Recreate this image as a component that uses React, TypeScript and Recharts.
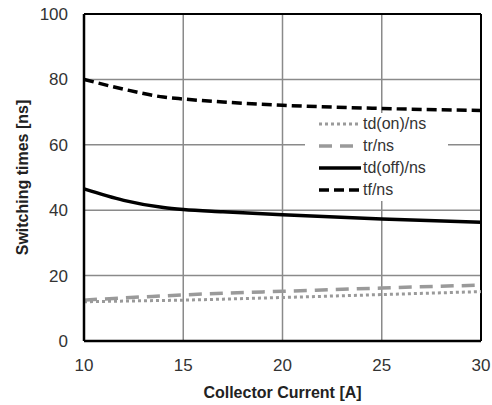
import { LineChart, Line, XAxis, YAxis, CartesianGrid, ReferenceLine } from "recharts";

const current = [10, 12, 14, 15, 17, 20, 25, 30];
const tdOn = [12, 12.2, 12.4, 12.5, 12.8, 13.3, 14.2, 15.1];
const tr = [12.5, 13.2, 13.8, 14.1, 14.6, 15.2, 16.2, 17.1];
const tdOff = [46.5, 43, 40.8, 40.2, 39.5, 38.6, 37.3, 36.3];
const tf = [80, 77, 74.6, 74, 73.1, 72.1, 71.1, 70.5];

const xTicks = [10, 15, 20, 25, 30];
const yTicks = [0, 20, 40, 60, 80, 100];

const FONT = "'Liberation Sans', Arial, sans-serif";

const series = [
  { key: "tdOn", name: "td(on)/ns", color: "#9a9a9a", dash: "3 3", width: 3 },
  { key: "tr", name: "tr/ns", color: "#9a9a9a", dash: "13 8", width: 3.5 },
  { key: "tdOff", name: "td(off)/ns", color: "#000000", dash: undefined, width: 3.5 },
  { key: "tf", name: "tf/ns", color: "#000000", dash: "10 5", width: 3.5 },
];

const data = current.map((c, i) => ({
  current: c,
  tdOn: tdOn[i],
  tr: tr[i],
  tdOff: tdOff[i],
  tf: tf[i],
}));

export default function App() {
  return (
    <div style={{ position: "absolute", left: 0, top: 0, width: 492, height: 405, background: "#fff", fontFamily: FONT }}>
      <LineChart width={492} height={405} data={data} margin={{ top: 14, right: 11, bottom: 0, left: 0 }}>
        <CartesianGrid stroke="#8a8a8a" strokeWidth={1.5} />
        <XAxis
          dataKey="current"
          type="number"
          domain={[10, 30]}
          ticks={xTicks}
          height={64}
          tickLine={false}
          axisLine={{ stroke: "#000", strokeWidth: 2.5 }}
          tick={{ fill: "#333", fontSize: 17, fontFamily: FONT }}
          tickMargin={12}
          label={{ value: "Collector Current [A]", position: "insideBottom", offset: 7, fill: "#222", fontSize: 16, fontWeight: "bold", fontFamily: FONT }}
        />
        <YAxis
          width={84}
          domain={[0, 100]}
          ticks={yTicks}
          tickLine={false}
          axisLine={{ stroke: "#000", strokeWidth: 2.5 }}
          tick={{ fill: "#333", fontSize: 17, fontFamily: FONT }}
          tickMargin={10}
          label={{ value: "Switching times [ns]", angle: -90, position: "insideLeft", offset: 22, fill: "#222", fontSize: 16, fontWeight: "bold", fontFamily: FONT, style: { textAnchor: "middle" } }}
        />
        <ReferenceLine y={100} stroke="#000" strokeWidth={2} />
        <ReferenceLine x={30} stroke="#000" strokeWidth={2} />
        {series.map((s) => (
          <Line
            key={s.key}
            dataKey={s.key}
            name={s.name}
            type="monotone"
            stroke={s.color}
            strokeWidth={s.width}
            strokeDasharray={s.dash}
            dot={false}
            isAnimationActive={false}
          />
        ))}
      </LineChart>
      {/* legend box sits over the plot, below the tf curve */}
      <div
        style={{
          position: "absolute",
          left: 305,
          top: 113,
          width: 143,
          height: 88,
          background: "#fff",
          boxSizing: "border-box",
        }}
      >
        {series.map((s) => (
          <div key={s.key} style={{ display: "flex", alignItems: "center", height: 22, paddingLeft: 14 }}>
            <svg width={42} height={10}>
              <line x1={0} y1={5} x2={42} y2={5} stroke={s.color} strokeWidth={s.width} strokeDasharray={s.dash} />
            </svg>
            <span style={{ fontSize: 16, color: "#333", marginLeft: 2 }}>{s.name}</span>
          </div>
        ))}
      </div>
    </div>
  );
}
